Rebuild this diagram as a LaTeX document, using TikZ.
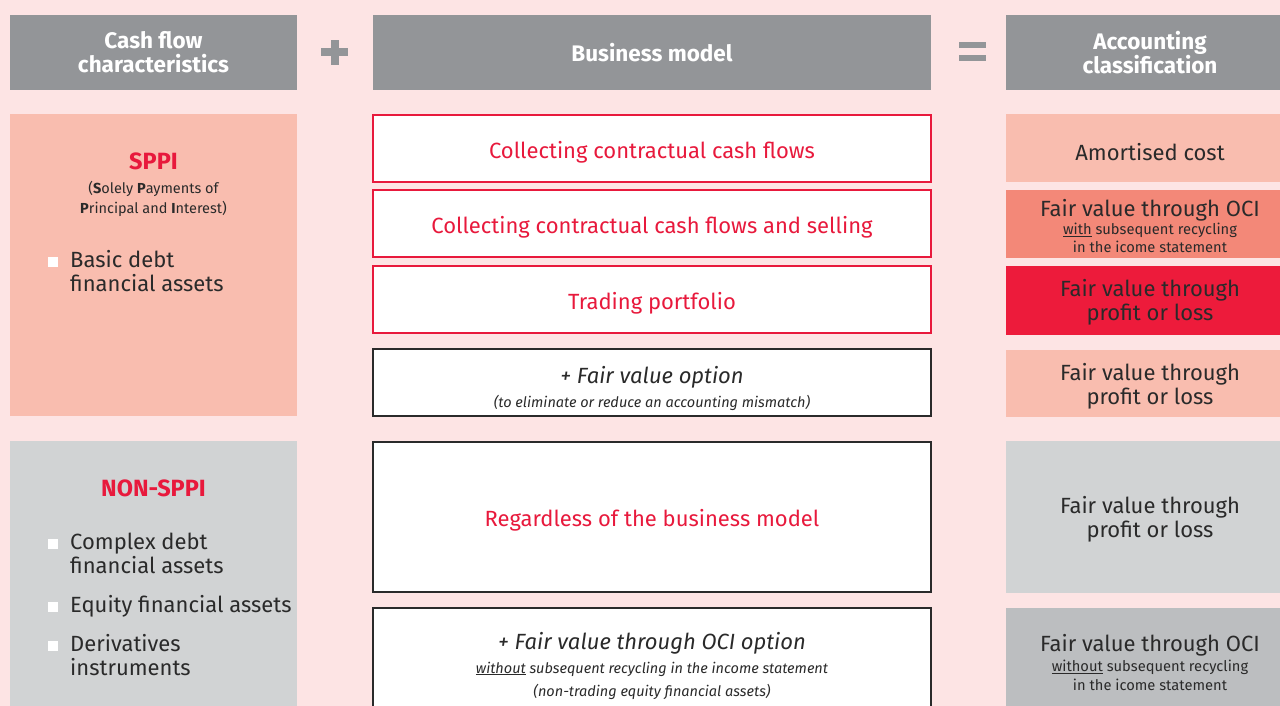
\documentclass[tikz,border=0pt]{standalone}
\usepackage{fontspec}
\setmainfont{Fira Sans}
\definecolor{bgpink}{HTML}{FDE4E4}
\definecolor{hdrgray}{HTML}{939598}
\definecolor{salmon}{HTML}{F9BDAF}
\definecolor{midsalmon}{HTML}{F38878}
\definecolor{brightred}{HTML}{ED1B3B}
\definecolor{ltgray}{HTML}{D1D3D4}
\definecolor{dkgray}{HTML}{BCBEC0}
\definecolor{txt}{HTML}{2A2A2A}
\definecolor{redtxt}{HTML}{E8193C}
\newcommand{\fs}[2]{\fontsize{#1}{#2}\selectfont}
\tikzset{
  hdr/.style={fill=hdrgray, minimum height=75pt, inner sep=0pt},
  hdrtxt/.style={text=white, font=\bfseries\fs{22.5}{24}, align=center, inner sep=0pt},
  cell/.style={inner sep=0pt, align=center, text=txt},
  main/.style={cell, font=\fs{22}{24}},
  redmain/.style={main, text=redtxt},
  itmain/.style={cell, font=\itshape\fs{22}{24}},
  small/.style={cell, font=\fs{14.7}{18.5}},
  itsmall/.style={cell, font=\itshape\fs{14.5}{16}},
  title/.style={cell, text=redtxt, font=\bfseries\fs{23.5}{24}},
  redbox/.style={draw=redtxt, line width=1.1pt, fill=white, minimum width=558pt, minimum height=67pt, inner sep=0pt},
  blkbox/.style={draw=txt, line width=1.2pt, fill=white, minimum width=558pt, inner sep=0pt},
  rbox/.style={minimum width=288pt, inner sep=0pt},
  itm/.style={main, align=left, anchor=west},
  bul/.style={fill=white, inner sep=0pt, minimum size=10pt},
}
\begin{document}
\begin{tikzpicture}[x=1pt,y=-1pt]
\useasboundingbox (0,0) rectangle (1280,706);
\clip (0,0) rectangle (1280,706);
\fill[bgpink] (0,0) rectangle (1280,706);

% headers
\node[hdr, minimum width=287pt] (h1) at (153.5,52.5) {};
\node[hdrtxt] (h1t) at (153.5,52.5) {Cash flow\\characteristics};
\node[hdr, minimum width=558pt] (h2) at (652,52.5) {};
\node[hdrtxt] (h2t) at (652,53) {Business model};
\node[hdr, minimum width=288pt] (h3) at (1150,52.5) {};
\node[hdrtxt] (h3t) at (1150,52.5) {Accounting\\classification};

% plus and equals
\fill[hdrgray] (321,48.5) rectangle (348,56.5);
\fill[hdrgray] (330.5,40) rectangle (338.5,65);
\fill[hdrgray] (959,42) rectangle (986,48);
\fill[hdrgray] (959,55.5) rectangle (986,61.5);

% left column
\node[fill=salmon, minimum width=287pt, minimum height=302pt, inner sep=0pt] (sppi) at (153.5,265) {};
\node[title] (sppit) at (153.5,161) {SPPI};
\node[small, font=\fs{14.5}{20}] (sppis) at (153.5,199) {(\textbf{S}olely \textbf{P}ayments of\\\textbf{P}rincipal and \textbf{I}nterest)};
\node[bul] (b1) at (53,262) {};
\node[itm] (i1) at (70,271.5) {Basic debt\\financial assets};

\node[fill=ltgray, minimum width=287pt, minimum height=280pt, inner sep=0pt] (nsppi) at (153.5,581) {};
\node[title] (nsppit) at (153.5,488) {NON-SPPI};
\node[bul] (b2) at (53,544) {};
\node[itm] (i2) at (70,553.5) {Complex debt\\financial assets};
\node[bul] (b3) at (53,607) {};
\node[itm] (i3) at (70,606) {Equity financial assets};
\node[bul] (b4) at (53,646) {};
\node[itm] (i4) at (70,655.5) {Derivatives\\instruments};

% middle column
\node[redbox] (m1) at (652,148.5) {};
\node[redmain] (m1t) at (652,152) {Collecting contractual cash flows};
\node[redbox] (m2) at (652,223.5) {};
\node[redmain] (m2t) at (652,227) {Collecting contractual cash flows and selling};
\node[redbox] (m3) at (652,299.5) {};
\node[redmain] (m3t) at (652,303) {Trading portfolio};
\node[blkbox, minimum height=67pt] (m4) at (652,382.5) {};
\node[itmain] (m4a) at (652,377) {+ Fair value option};
\node[itsmall] (m4b) at (652,403) {(to eliminate or reduce an accounting mismatch)};
\node[blkbox, minimum height=150pt] (m5) at (652,517) {};
\node[redmain] (m5t) at (652,520) {Regardless of the business model};
\node[blkbox, minimum height=130pt] (m6) at (652,673) {};
\node[itmain] (m6a) at (652,643) {+ Fair value through OCI option};
\node[itsmall] (m6b) at (652,669) {\underline{without} subsequent recycling in the income statement};
\node[itsmall] (m6c) at (652,692) {(non-trading equity financial assets)};

% right column
\node[rbox, fill=salmon, minimum height=68pt] (r1) at (1150,148) {};
\node[main] (r1t) at (1150,152) {Amortised cost};
\node[rbox, fill=midsalmon, minimum height=68pt] (r2) at (1150,224) {};
\node[main] (r2a) at (1150,210) {Fair value through OCI};
\node[small] (r2b) at (1150,238) {\underline{with} subsequent recycling\\in the icome statement};
\node[rbox, fill=brightred, minimum height=69pt] (r3) at (1150,300.5) {};
\node[main] (r3t) at (1150,302.5) {Fair value through\\profit or loss};
\node[rbox, fill=salmon, minimum height=67pt] (r4) at (1150,383.5) {};
\node[main] (r4t) at (1150,386.5) {Fair value through\\profit or loss};
\node[rbox, fill=ltgray, minimum height=152pt] (r5) at (1150,517) {};
\node[main] (r5t) at (1150,519.5) {Fair value through\\profit or loss};
\node[rbox, fill=dkgray, minimum height=130pt] (r6) at (1150,673) {};
\node[main] (r6a) at (1150,645) {Fair value through OCI};
\node[small] (r6b) at (1150,675.5) {\underline{without} subsequent recycling\\in the icome statement};
\end{tikzpicture}
\end{document}
